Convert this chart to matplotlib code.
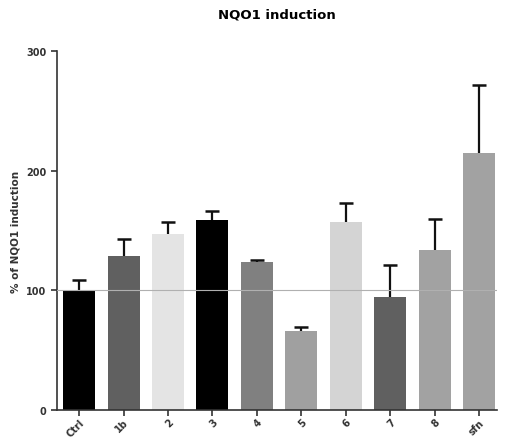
import numpy as np
import matplotlib.pyplot as plt

# NQO1 induction (% of control), mean and upper error
labels = ['Ctrl', '1b', '2', '3', '4', '5', '6', '7', '8', 'sfn']
means = [100, 129, 147, 159, 124, 66, 157, 94, 134, 215]
errors = [9, 14, 10, 7, 1, 3, 16, 27, 26, 57]
colors = ['#000000', '#606060', '#e4e4e4', '#000000', '#808080',
          '#a0a0a0', '#d4d4d4', '#606060', '#a2a2a2', '#a2a2a2']

fig = plt.figure(figsize=(5.08, 4.39), dpi=100)
ax = fig.add_axes([0.112, 0.064, 0.866, 0.8175])

x = np.arange(len(labels))
tops = np.array(means) + np.array(errors)
ax.bar(x, means, width=0.72, color=colors, zorder=2)
# upper-only error bars: stem plus a cap at the top
ax.vlines(x, means, tops, color='#111111', linewidth=1.6, zorder=3)
ax.plot(x, tops, linestyle='none', marker='_', markersize=10,
        markeredgewidth=1.8, color='#111111', zorder=3)

# reference line at 100%
ax.axhline(100, color='#b0b0b0', linewidth=0.8, zorder=4)

ax.set_xlim(-0.5, 9.4)
ax.set_ylim(0, 300)
ax.set_yticks([0, 100, 200, 300])
ax.set_xticks(x)
ax.set_xticklabels(labels, rotation=45, ha='right', rotation_mode='anchor',
                   fontsize=7, fontweight='bold', color='#333333')
for t in ax.get_yticklabels():
    t.set_fontsize(7)
    t.set_fontweight('bold')
    t.set_color('#333333')

ax.spines['top'].set_visible(False)
ax.spines['right'].set_visible(False)
for s in ('left', 'bottom'):
    ax.spines[s].set_linewidth(1.2)
    ax.spines[s].set_color('#333333')
ax.tick_params(direction='out', length=4, width=1.2, color='#333333')
ax.tick_params(axis='x', pad=1)

ax.set_ylabel('% of NQO1 induction', fontsize=7.5, fontweight='bold', color='#333333')
ax.set_title('NQO1 induction', fontsize=9.5, fontweight='bold', pad=24)

fig.savefig('out.png', dpi=100)
